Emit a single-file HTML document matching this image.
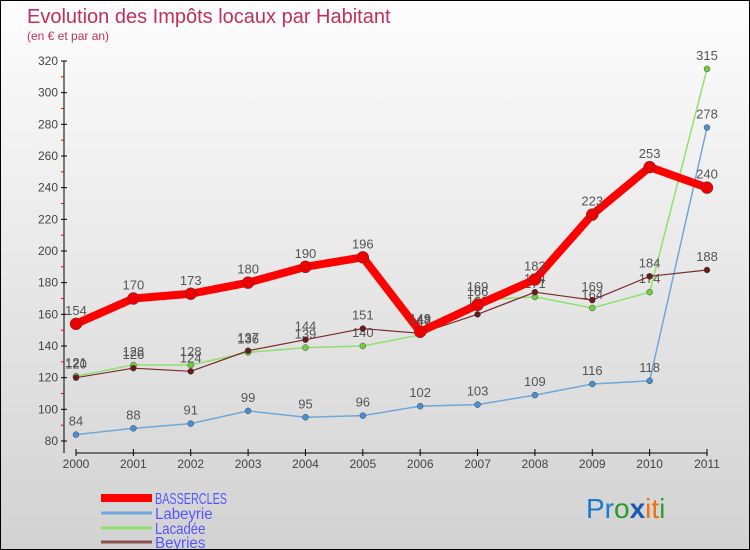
<!DOCTYPE html>
<html><head><meta charset="utf-8"><style>
body{margin:0}
#c{width:750px;height:550px;position:relative;box-sizing:border-box;border:1px solid #000;background:linear-gradient(#fdfdfd,#d2d2d2);font-family:"Liberation Sans",sans-serif;overflow:hidden}
svg text{font-family:"Liberation Sans",sans-serif}
</style></head><body>
<div id="c">
<svg id="s" width="750" height="550">
<text x="26" y="22" font-size="20" fill="#c0305a">Evolution des Impôts locaux par Habitant</text>
<text x="26" y="39" font-size="12" fill="#c0305a">(en € et par an)</text>
<text x="585" y="517" font-size="28"><tspan fill="#1a7ad0">Pr</tspan><tspan fill="#2a9a2a">o</tspan><tspan fill="#1a5ab0" font-weight="bold">x</tspan><tspan fill="#f07010">it</tspan><tspan fill="#30a030">i</tspan></text>
</svg>
</div>
<script>
const years=["2000","2001","2002","2003","2004","2005","2006","2007","2008","2009","2010","2011"];
const yTicks=[80,100,120,140,160,180,200,220,240,260,280,300,320];
const bassercles=[154,170,173,180,190,196,149,166,182,223,253,240];
const labeyrie=[84,88,91,99,95,96,102,103,109,116,118,278];
const lacadee=[121,128,128,136,139,140,147,169,171,164,174,315];
const beyries=[120,126,124,137,144,151,148,160,174,169,184,188];
const ns="http://www.w3.org/2000/svg",s=document.getElementById('s');
const X=i=>75+i*(706-75)/11, Y=v=>440-(v-80)*(380/240);
function el(t,a,p){const e=document.createElementNS(ns,t);for(const k in a)e.setAttribute(k,a[k]);(p||s).appendChild(e);return e;}
let g=el('g',{});
el('line',{x1:63,y1:60,x2:63,y2:452,stroke:'#000','stroke-width':1},g);
el('line',{x1:75,y1:452,x2:706,y2:452,stroke:'#000','stroke-width':1},g);
yTicks.forEach((v,i)=>{el('line',{x1:60,y1:Y(v),x2:66,y2:Y(v),stroke:'#000'},g);
 if(i<yTicks.length-1)el('line',{x1:60,y1:Y(v+10),x2:63,y2:Y(v+10),stroke:'#e00'},g);
 const t=el('text',{x:57,y:Y(v)+4,'font-size':12,fill:'#444','text-anchor':'end'},g);t.textContent=v;
 });
years.forEach((y,i)=>{el('line',{x1:X(i),y1:448,x2:X(i),y2:455,stroke:'#000'},g);
 const t=el('text',{x:X(i),y:467,'font-size':12,fill:'#444','text-anchor':'middle'},g);t.textContent=y;
 });
function series(name,d,col,w,r,dot){const sg=el('g',{});
 el('polyline',{points:d.map((v,i)=>X(i)+','+Y(v)).join(' '),fill:'none',stroke:col,'stroke-width':w,'stroke-linejoin':'round'},sg);
 d.forEach((v,i)=>{const c=el('circle',{cx:X(i),cy:Y(v),r:r,fill:dot,stroke:'#444','stroke-width':0.5},sg);
  
  const t=el('text',{x:X(i),y:Y(v)-9,'font-size':13,fill:'#555','text-anchor':'middle'},sg);t.textContent=v;
  });}
series('labeyrie',labeyrie,'#6fa8d8',1.5,3,'#4a90d0');
series('lacadee',lacadee,'#90e070',1.5,3,'#70d040');
series('beyries',beyries,'#7a2a2a',1.2,3,'#6a1a1a');
series('bassercles',bassercles,'#f00',8,6,'#e00');
const lg=[["BASSERCLES","#f00",8],["Labeyrie","#6fa8d8",3],["Lacadée","#90e070",3],["Beyries","#8a5050",3]];
lg.forEach((l,i)=>{const e=el('g',{});
 const ly=[497,512,527,541][i];
 el('line',{x1:100,y1:ly,x2:151,y2:ly,stroke:l[1],'stroke-width':l[2]},e);
 const t=el('text',{x:154,y:ly+6,'font-size':16,fill:'#5555ff',textLength:l[0].length*7.2,lengthAdjust:'spacingAndGlyphs'},e);t.textContent=l[0];});
</script>
</body></html>
